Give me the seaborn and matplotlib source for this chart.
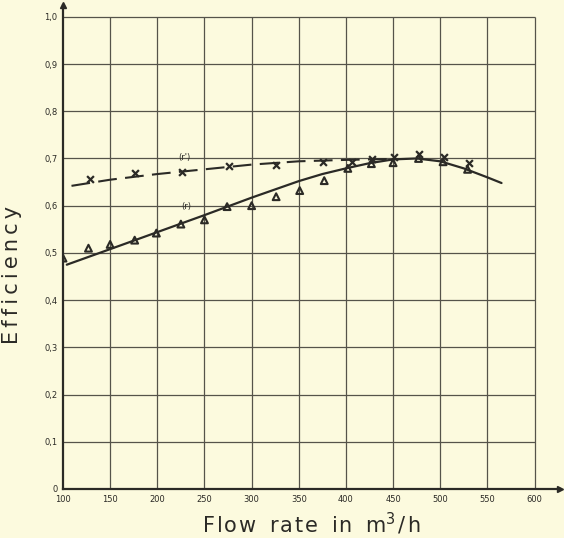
import matplotlib
matplotlib.use("Agg")
import matplotlib.pyplot as plt
import numpy as np
import pandas as pd
import seaborn as sns

# measured points, series (r) - triangles
tri_flow = [100, 127, 150, 176, 199, 225, 250, 274, 300, 326, 351, 377, 402, 427, 450, 477, 503, 529]
tri_eff = [0.489, 0.510, 0.518, 0.527, 0.542, 0.561, 0.570, 0.598, 0.600, 0.619,
           0.632, 0.653, 0.679, 0.689, 0.691, 0.700, 0.693, 0.677]

# measured points, series (r') - crosses
cross_flow = [129, 176, 226, 276, 326, 376, 406, 428, 451, 477, 504, 530]
cross_eff = [0.656, 0.670, 0.672, 0.685, 0.686, 0.692, 0.692, 0.698, 0.704, 0.710, 0.703, 0.690]

# fitted curve (r), solid
curve_flow = [104, 150, 200, 250, 300, 330, 350, 375, 400, 425, 450, 475, 500, 525, 550, 565]
curve_eff = [0.475, 0.508, 0.544, 0.580, 0.617, 0.638, 0.652, 0.667, 0.679, 0.690,
             0.698, 0.700, 0.694, 0.679, 0.660, 0.648]

# fitted curve (r'), dashed
dash_flow = [109, 150, 200, 250, 300, 350, 400, 450]
dash_eff = [0.642, 0.655, 0.667, 0.677, 0.687, 0.694, 0.697, 0.699]

xticks = [100, 150, 200, 250, 300, 350, 400, 450, 500, 550, 600]
yticks = [0, 0.1, 0.2, 0.3, 0.4, 0.5, 0.6, 0.7, 0.8, 0.9, 1.0]
ytick_labels = ["0", "0,1", "0,2", "0,3", "0,4", "0,5", "0,6", "0,7", "0,8", "0,9", "1,0"]


def spaced(word, sep="\u2009"):
    # typewriter-like letter spacing
    return sep.join(word)


if __name__ == "__main__":
    sns.set_style("white")
    plt.rcParams["font.family"] = ["DejaVu Sans"]
    bg = "#fcfade"
    ink = "#2b2a26"

    fig = plt.figure(figsize=(5.64, 5.38), dpi=100, facecolor=bg)
    ax = fig.add_axes([63 / 564, (538 - 489) / 538, (560 - 63) / 564, (489 - 5) / 538])
    ax.set_facecolor(bg)
    ax.set_xlim(100, 627)
    ax.set_ylim(0, 1.025)

    # grid limited to the printed frame
    ax.vlines(xticks[1:], 0, 1.0, color="#55534a", linewidth=0.9, zorder=1)
    ax.hlines(yticks[1:], 100, 600, color="#55534a", linewidth=0.9, zorder=1)

    curves = pd.DataFrame({"flow": curve_flow, "eff": curve_eff})
    dashed = pd.DataFrame({"flow": dash_flow, "eff": dash_eff})
    tris = pd.DataFrame({"flow": tri_flow, "eff": tri_eff})
    crosses = pd.DataFrame({"flow": cross_flow, "eff": cross_eff})

    sns.lineplot(data=curves, x="flow", y="eff", ax=ax, color=ink, linewidth=1.6,
                 sort=False, estimator=None, zorder=3)
    sns.lineplot(data=dashed, x="flow", y="eff", ax=ax, color=ink, linewidth=1.5,
                 sort=False, estimator=None, dashes=False, zorder=3)
    ax.lines[-1].set_dashes([9, 4])
    ax.scatter(tris["flow"], tris["eff"], marker="^", s=24, facecolors="none",
               edgecolors=ink, linewidths=1.5, zorder=4)
    sns.scatterplot(data=crosses, x="flow", y="eff", ax=ax, marker="x", s=24,
                    color=ink, linewidth=1.6, zorder=4)

    ax.text(229, 0.693, "(r')", fontsize=6, color=ink, ha="center", va="bottom")
    ax.text(231, 0.589, "(r)", fontsize=6, color=ink, ha="center", va="bottom")

    # axes with arrowheads
    for side in ["top", "right"]:
        ax.spines[side].set_visible(False)
    for side in ["left", "bottom"]:
        ax.spines[side].set_color(ink)
        ax.spines[side].set_linewidth(1.6)
    ax.plot(1, 0, ">", color=ink, markersize=5, transform=ax.get_yaxis_transform(), clip_on=False)
    ax.plot(100, 1, "^", color=ink, markersize=5, transform=ax.get_xaxis_transform(), clip_on=False)

    ax.set_xticks(xticks)
    ax.set_xticklabels([str(v) for v in xticks])
    ax.set_yticks(yticks)
    ax.set_yticklabels(ytick_labels)
    ax.tick_params(length=0, labelsize=6, colors=ink, pad=4)

    hair = "\u200a"
    xlab = "  ".join([spaced("Flow", hair), spaced("rate", hair), spaced("in", hair),
                      "m$^3$" + hair + "/" + hair + "h"])
    ax.set_xlabel(xlab, fontsize=15, color=ink, labelpad=5)
    ax.set_ylabel(spaced("Efficiency"), fontsize=15, color=ink)
    ax.yaxis.set_label_coords(-0.082, 0.442)

    fig.savefig("out.png", dpi=100, facecolor=bg)
